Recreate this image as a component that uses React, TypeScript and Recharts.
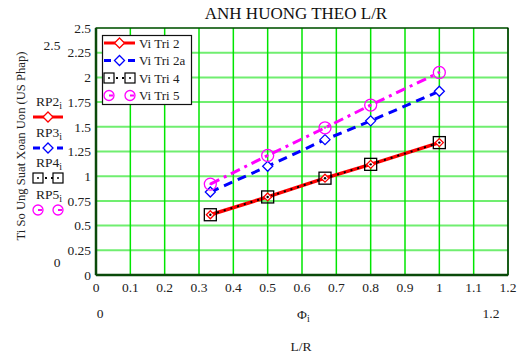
import React from "react";
import {
  LineChart,
  Line,
  XAxis,
  YAxis,
  CartesianGrid,
  ReferenceArea,
  ReferenceLine,
} from "recharts";

const lr = [0.333, 0.5, 0.667, 0.8, 1];
const rp2 = [0.61, 0.79, 0.98, 1.12, 1.34];
const rp3 = [0.84, 1.1, 1.37, 1.56, 1.86];
const rp4 = [0.61, 0.79, 0.98, 1.12, 1.34];
const rp5 = [0.92, 1.21, 1.49, 1.72, 2.05];

const xTicks = [0, 0.1, 0.2, 0.3, 0.4, 0.5, 0.6, 0.7, 0.8, 0.9, 1, 1.1, 1.2];
const yTicks = [0, 0.25, 0.5, 0.75, 1, 1.25, 1.5, 1.75, 2, 2.25, 2.5];

const seriesNames = ["Vi Tri 2", "Vi Tri 2a", "Vi Tri 4", "Vi Tri 5"];
const leftLabels = ["RP2", "RP3", "RP4", "RP5"];

const data = lr.map((x, i) => ({
  x,
  rp2: rp2[i],
  rp3: rp3[i],
  rp4: rp4[i],
  rp5: rp5[i],
}));

const FONT = "'Liberation Serif', 'Times New Roman', serif";
const serif = { fontFamily: FONT };

const Diamond = (color: string, r: number) => (props: any) => {
  const { cx, cy, index } = props;
  if (cx == null || cy == null) return <g key={index} />;
  return (
    <polygon
      key={index}
      points={`${cx},${cy - r} ${cx + r},${cy} ${cx},${cy + r} ${cx - r},${cy}`}
      fill="white"
      stroke={color}
      strokeWidth={1.3}
    />
  );
};

const SquareDot = (props: any) => {
  const { cx, cy, index } = props;
  if (cx == null || cy == null) return <g key={index} />;
  return (
    <g key={index}>
      <rect x={cx - 6} y={cy - 6} width={12} height={12} fill="none" stroke="#000" strokeWidth={1.3} />
      <circle cx={cx} cy={cy} r={1.2} fill="#000" />
    </g>
  );
};

const CircleDot = (props: any) => {
  const { cx, cy, index } = props;
  if (cx == null || cy == null) return <g key={index} />;
  return (
    <g key={index}>
      <circle cx={cx} cy={cy} r={6} fill="none" stroke="#ff00ff" strokeWidth={1.3} />
      <circle cx={cx} cy={cy} r={1} fill="#ff00ff" />
    </g>
  );
};

// small line+marker sample used in both legends
const Sample = ({ kind, x, y, w }: { kind: number; x: number; y: number; w: number }) => {
  const mx = x + w / 2;
  if (kind === 0)
    return (
      <g>
        <line x1={x} y1={y} x2={x + w} y2={y} stroke="red" strokeWidth={3} />
        <polygon points={`${mx},${y - 5} ${mx + 5},${y} ${mx},${y + 5} ${mx - 5},${y}`} fill="white" stroke="red" strokeWidth={1.3} />
      </g>
    );
  if (kind === 1)
    return (
      <g>
        <line x1={x} y1={y} x2={x + w} y2={y} stroke="#0000ff" strokeWidth={3} strokeDasharray="7 5" />
        <polygon points={`${mx},${y - 5} ${mx + 5},${y} ${mx},${y + 5} ${mx - 5},${y}`} fill="white" stroke="#0000ff" strokeWidth={1.3} />
      </g>
    );
  if (kind === 2)
    return (
      <g>
        <line x1={x + 6} y1={y} x2={x + w - 6} y2={y} stroke="#000" strokeWidth={2} strokeDasharray="2 4" />
        <rect x={x} y={y - 5} width={10} height={10} fill="white" stroke="#000" strokeWidth={1.2} />
        <circle cx={x + 5} cy={y} r={1} fill="#000" />
        <rect x={x + w - 10} y={y - 5} width={10} height={10} fill="white" stroke="#000" strokeWidth={1.2} />
        <circle cx={x + w - 5} cy={y} r={1} fill="#000" />
      </g>
    );
  return (
    <g>
      <circle cx={x + 5} cy={y} r={5} fill="white" stroke="#ff00ff" strokeWidth={1.3} />
      <circle cx={x + w - 5} cy={y} r={5} fill="white" stroke="#ff00ff" strokeWidth={1.3} />
      <line x1={x + 5} y1={y} x2={x + 9} y2={y} stroke="#ff00ff" strokeWidth={2} />
      <line x1={x + w - 5} y1={y} x2={x + w - 1} y2={y} stroke="#ff00ff" strokeWidth={2} />
    </g>
  );
};

const tickStyle = { fill: "#222", fontSize: 13.5, fontFamily: FONT, style: serif };

const App: React.FC = () => {
  return (
    <div style={{ position: "absolute", left: 0, top: 0, width: 526, height: 358, background: "#fff", ...serif }}>
      <LineChart
        width={526}
        height={358}
        data={data}
        margin={{ top: 28, right: 18, bottom: 63, left: 0 }}
      >
        <CartesianGrid vertical={false} stroke="#70ee70" strokeWidth={2} />
        <CartesianGrid horizontal={false} stroke="#00e600" strokeWidth={1.5} />
        <XAxis
          dataKey="x"
          type="number"
          domain={[0, 1.2]}
          ticks={xTicks}
          height={20}
          axisLine={false}
          tickLine={false}
          tickSize={0}
          interval={0}
          tick={tickStyle}
          tickMargin={7}
        />
        <YAxis
          type="number"
          domain={[0, 2.5]}
          ticks={yTicks}
          width={96}
          axisLine={false}
          tickLine={false}
          tickSize={0}
          interval={0}
          tick={tickStyle}
          tickMargin={5}
        />
        <ReferenceArea x1={0} x2={1.2} y1={0} y2={2.5} fill="none" stroke="#000" strokeWidth={1.2} fillOpacity={0} />
        <ReferenceLine x={0} stroke="#0a4a0a" strokeWidth={2.5} />
        <ReferenceLine y={0} stroke="#0a4a0a" strokeWidth={2.5} />
        <Line dataKey="rp2" stroke="red" strokeWidth={3.5} dot={Diamond("red", 4)} isAnimationActive={false} />
        <Line
          dataKey="rp3"
          stroke="#0000ff"
          strokeWidth={3}
          strokeDasharray="9 6"
          dot={Diamond("#0000ff", 5)}
          isAnimationActive={false}
        />
        <Line
          dataKey="rp4"
          stroke="#000"
          strokeWidth={2}
          strokeDasharray="2 5"
          dot={SquareDot}
          isAnimationActive={false}
        />
        <Line
          dataKey="rp5"
          stroke="#ff00ff"
          strokeWidth={3}
          strokeDasharray="10 5 3 5"
          dot={CircleDot}
          isAnimationActive={false}
        />
      </LineChart>
      <svg width={526} height={358} style={{ position: "absolute", left: 0, top: 0, pointerEvents: "none" }}>
        <text x={296} y={19} textAnchor="middle" fontSize={17} fill="#111" style={serif}>
          ANH HUONG THEO L/R
        </text>
        <text
          x={0}
          y={0}
          transform="translate(25,146) rotate(-90)"
          textAnchor="middle"
          fontSize={12.6}
          fill="#222"
          style={serif}
        >
          Ti So Ung Suat Xoan Uon (US Phap)
        </text>
        <text x={52} y={50} textAnchor="middle" fontSize={13.5} fill="#222" style={serif}>2.5</text>
        <text x={57} y={267} textAnchor="middle" fontSize={13.5} fill="#222" style={serif}>0</text>
        {leftLabels.map((t, i) => {
          const ys = [106, 137, 167, 199][i];
          return (
            <g key={t}>
              <text x={36} y={ys} fontSize={13.5} fill="#222" style={serif}>
                {t}
                <tspan fontSize={10} dy={3}>i</tspan>
              </text>
              <Sample kind={i} x={33} y={ys + 11} w={30} />
            </g>
          );
        })}
        <text x={100} y={318} textAnchor="middle" fontSize={13.5} fill="#222" style={serif}>0</text>
        <text x={297} y={319} fontSize={13.5} fill="#222" style={serif}>
          Φ<tspan fontSize={10} dy={3}>i</tspan>
        </text>
        <text x={491} y={318} textAnchor="middle" fontSize={13.5} fill="#222" style={serif}>1.2</text>
        <text x={301} y={351} textAnchor="middle" fontSize={13.5} fill="#222" style={serif}>L/R</text>
        <rect x={102.5} y={35.5} width={89} height={69} fill="white" stroke="#111" strokeWidth={1.2} />
        {seriesNames.map((n, i) => {
          const y = 43 + i * 17.5;
          return (
            <g key={n}>
              <Sample kind={i} x={104} y={y} w={31} />
              <text x={139} y={y + 4.5} fontSize={13} fill="#222" style={serif}>{n}</text>
            </g>
          );
        })}
      </svg>
    </div>
  );
};

export default App;
